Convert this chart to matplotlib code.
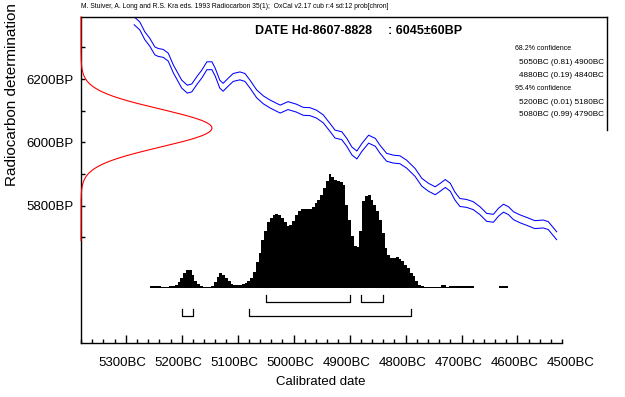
import numpy as np
import matplotlib.pyplot as plt
from matplotlib.transforms import ScaledTranslation

plt.rcParams['font.family'] = ['Liberation Sans', 'DejaVu Sans']

# measurement: 6045 +/- 60 BP
DATE_BP = 6045
DATE_SD = 60

# calibration curve centre (cal BC vs BP); band is +/- CAL_SIGMA
cal_bc = [5285, 5275, 5266, 5257, 5248, 5242, 5233, 5224, 5215, 5200, 5190, 5182,
          5173, 5164, 5155, 5146, 5140, 5132, 5126, 5117, 5108, 5096, 5087, 5078,
          5066, 5054, 5042, 5024, 5010, 4995, 4983, 4971, 4959, 4947, 4935, 4926,
          4914, 4905, 4896, 4887, 4878, 4866, 4854, 4846, 4834, 4822, 4810, 4798,
          4783, 4771, 4759, 4747, 4738, 4729, 4720, 4712, 4703, 4691, 4679, 4667,
          4655, 4643, 4634, 4625, 4616, 4607, 4595, 4583, 4569, 4554, 4545, 4530]
cal_bp = [6384, 6368, 6337, 6316, 6289, 6284, 6281, 6269, 6232, 6184, 6168, 6172,
          6195, 6216, 6242, 6242, 6221, 6184, 6174, 6190, 6205, 6210, 6205, 6184,
          6153, 6134, 6121, 6105, 6116, 6108, 6098, 6097, 6089, 6074, 6047, 6026,
          6021, 6000, 5973, 5960, 5984, 6010, 6000, 5979, 5953, 5947, 5945, 5931,
          5905, 5874, 5858, 5847, 5858, 5870, 5858, 5831, 5810, 5807, 5800, 5784,
          5763, 5760, 5779, 5792, 5784, 5768, 5758, 5750, 5740, 5742, 5737, 5705]
CAL_SIGMA = 12.5

# calibrated probability, 5-year bins (relative heights)
prob_bc = list(range(5255, 4679, -5)) + [4630, 4625, 4620]
prob_h = [5, 5, 5, 5, 4, 4, 4, 5, 5,
          10, 17, 30, 45, 55, 55, 40, 20, 12, 6,
          3, 3, 3,
          6, 18, 32, 45, 40, 30, 20, 13, 10, 8, 8,
          11, 15, 20, 30, 48, 77, 105, 145, 170, 197, 210, 218, 222, 218, 210, 197,
          187, 190, 200, 218, 232, 237,
          238, 238, 238, 243, 255, 265, 280, 300, 322, 342, 332, 325, 322, 318, 310,
          250, 205, 155, 125, 122, 170, 260, 275, 278, 265, 250, 230, 205, 165, 120,
          98, 90, 90, 94, 88, 80, 70, 60, 45, 35, 20, 10,
          6, 4, 4, 4, 4, 4, 4, 8, 8, 4, 5, 5, 5, 5, 5, 5, 5, 5, 5,
          5, 5, 5]

ranges68 = [(5050, 4900), (4880, 4840)]
ranges95 = [(5200, 5180), (5080, 4790)]
conf_text = [
    ("68.2% confidence", 0),
    ("5050BC (0.81) 4900BC", 1),
    ("4880BC (0.19) 4840BC", 1),
    ("95.4% confidence", 0),
    ("5200BC (0.01) 5180BC", 1),
    ("5080BC (0.99) 4790BC", 1),
]

x_major = list(range(5300, 4499, -100))
x_minor = list(range(5380, 4519, -20))
y_major = [5800, 6000, 6200]
y_minor = [5700, 5900, 6100, 6300]

W, H = 625, 397
fig = plt.figure(figsize=(W / 100, H / 100), dpi=100)
ax = fig.add_axes([81 / W, 1 - 343 / H, 526 / W, 326 / H])
ax.set_xlim(5380, 4440)
ax.set_ylim(5366, 6396)

# measurement distribution along the BP axis
bp = np.linspace(5690, 6396, 500)
ax.plot(5380 - 234 * np.exp(-0.5 * ((bp - DATE_BP) / DATE_SD) ** 2), bp,
        color="#ff0000", lw=0.8, zorder=5, clip_on=False)

# calibration curve band
cal_bp = np.array(cal_bp)
ax.plot(cal_bc, cal_bp + CAL_SIGMA, color="#0000ff", lw=0.75)
ax.plot(cal_bc, cal_bp - CAL_SIGMA, color="#0000ff", lw=0.75)

# probability histogram sits on 5540 BP, tallest bin 360 BP high
heights = np.array(prob_h) / max(prob_h) * 360
ax.bar(prob_bc, heights, width=5, bottom=5540, color="black", linewidth=0)

# range brackets
for lo, hi in ranges68:
    ax.plot([lo, lo, hi, hi], [5517, 5495, 5495, 5517], color="black", lw=0.9)
for lo, hi in ranges95:
    ax.plot([lo, lo, hi, hi], [5472, 5451, 5451, 5472], color="black", lw=0.9)

# frame: bottom axis stops at 4520BC, right edge only boxes the legend text
for s in ax.spines.values():
    s.set_linewidth(1.0)
ax.spines["bottom"].set_bounds(4520, 5380)
ax.spines["right"].set_bounds(6040, 6396)

ax.set_xticks(x_major, labels=[f"{y}BC" for y in x_major])
ax.set_xticks(x_minor, minor=True)
ax.xaxis.get_major_ticks()[-1].tick1line.set_visible(False)
ax.tick_params(axis="x", which="major", direction="in", length=6, width=1,
               pad=10, labelsize=9.5, top=False)
ax.tick_params(axis="x", which="minor", direction="in", length=3, width=1, top=False)
shift = ScaledTranslation(-3 / 100, 0, fig.dpi_scale_trans)
for lab in ax.get_xticklabels():
    lab.set_transform(lab.get_transform() + shift)

ax.set_yticks(y_major, labels=[f"{y}BP" for y in y_major])
ax.set_yticks(y_minor, minor=True)
ax.tick_params(axis="y", which="both", direction="in", length=3, width=1,
               pad=5, labelsize=9.5, right=False)

fig.text(81 / W, 1 - 6.5 / H,
         "M. Stuiver, A. Long and R.S. Kra eds. 1993 Radiocarbon 35(1);  "
         "OxCal v2.17 cub r:4 sd:12 prob[chron]",
         fontsize=4.9, va="center")
fig.text(255 / W, 1 - 31 / H, "DATE Hd-8607-8828", fontsize=9, fontweight="bold", va="center")
fig.text(388 / W, 1 - 31 / H, ": 6045\u00b160BP", fontsize=9, fontweight="bold", va="center")

line_y = [49, 62, 75.5, 88.5, 102, 115]
for (txt, indent), yy in zip(conf_text, line_y):
    fig.text((515 + 4 * indent) / W, 1 - yy / H, txt,
             fontsize=5.9 if indent else 5.0, va="center")

fig.text(12 / W, 1 - 95 / H, "Radiocarbon determination", rotation=90,
         fontsize=11, ha="center", va="center")
fig.text(321 / W, 1 - 382 / H, "Calibrated date", fontsize=9.5, ha="center", va="center")

fig.savefig("out.png", dpi=100)
